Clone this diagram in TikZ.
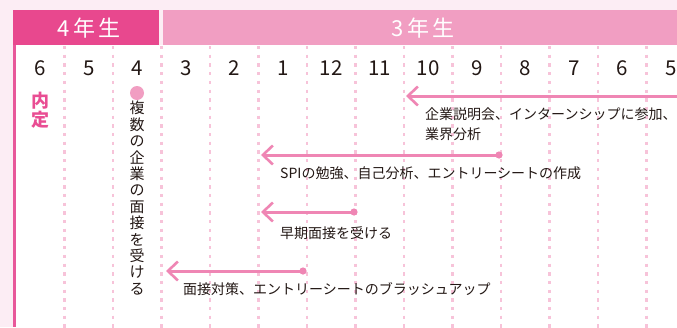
\documentclass[tikz,border=0pt]{standalone}
\usepackage{fontspec}
\setmainfont{Noto Sans CJK JP}
\usetikzlibrary{arrows.meta}
\usepackage{xcolor}

\definecolor{pagebg}{HTML}{FCEDF4}
\definecolor{hdrdark}{HTML}{E8488E}
\definecolor{hdrlight}{HTML}{F19EC2}
\definecolor{edgeline}{HTML}{E8589A}
\definecolor{gridpink}{HTML}{F7C3D9}
\definecolor{arrowpink}{HTML}{EF86B4}
\definecolor{naitei}{HTML}{E94D93}
\definecolor{bodytext}{HTML}{231815}

\tikzset{
    gridline/.style={gridpink, line width=2.6pt, dash pattern=on 3.3pt off 5.4pt},
    monthlbl/.style={font=\fontsize{20.5}{22}\selectfont, text=bodytext, inner sep=0pt},
    yearlbl/.style={font=\fontsize{22}{24}\selectfont, text=white, inner sep=0pt},
    steplbl/.style={font=\fontsize{14}{20}\selectfont, text=bodytext, anchor=base west, inner sep=0pt, align=left},
    planline/.style={arrowpink, line width=3pt, -{Straight Barb[length=10pt,width=19pt,line width=2.6pt]}},
}

\begin{document}
\begin{tikzpicture}[x=1pt,y=-1pt]
        \useasboundingbox (0,0) rectangle (677,327);
        \clip (0,0) rectangle (677,327);

        % background and header
        \fill[pagebg] (0,0) rectangle (677,327);
        \fill[white] (16,45) rectangle (677,327);
        \fill[hdrdark] (13,10) rectangle (159,45);
        \fill[hdrlight] (163,10) rectangle (677,45);
        \draw[edgeline, line width=3pt] (14.5,45) -- (14.5,327);

        \node[yearlbl] (y4) at (89,28) {4\hspace{3pt}年\hspace{3pt}生};
        \node[yearlbl] (y3) at (423,28) {3\hspace{3pt}年\hspace{3pt}生};

        % month columns
        \foreach \k in {1,...,13}
            \draw[gridline] (16+48.5*\k,46) -- ++(0,282);
        \foreach \m [count=\i from 0] in {6,5,4,3,2,1,12,11,10,9,8,7,6,5}
            \node[monthlbl] (m\i) at (40.25+48.5*\i,68) {\m};

        % job offer
        \node[font=\fontsize{18}{19}\selectfont\bfseries, text=naitei, align=center, inner sep=0pt, anchor=north]
            (naitei) at (40,92) {内\\定};

        % interviews at several companies
        \fill[hdrlight] (137,93) circle (7pt);
        \node[font=\fontsize{15}{16.4}\selectfont, text=bodytext, align=center, inner sep=0pt, anchor=north]
            (mensetsu) at (137,101) {複\\数\\の\\企\\業\\の\\面\\接\\を\\受\\け\\る};

        % plan arrows
        \coordinate (s1) at (690,96);
        \coordinate (t1) at (406,96);
        \coordinate (s2) at (499,155);
        \coordinate (t2) at (261,155);
        \coordinate (s3) at (354,212);
        \coordinate (t3) at (261,212);
        \coordinate (s4) at (303,271);
        \coordinate (t4) at (166,271);

        \draw[planline] (s1) -- (t1);
        \draw[planline] (s2) -- (t2);
        \draw[planline] (s3) -- (t3);
        \draw[planline] (s4) -- (t4);
        \foreach \p in {s2,s3,s4}
            \fill[arrowpink] (\p) circle (3.6pt);

        \node[steplbl] (n1) at (425,139) {企業説明会、インターンシップに参加、\\業界分析};
        \node[steplbl] (n2) at (280,178) {SPIの勉強、自己分析、エントリーシートの作成};
        \node[steplbl] (n3) at (280,238) {早期面接を受ける};
        \node[steplbl] (n4) at (183,294) {面接対策、エントリーシートのブラッシュアップ};

    \end{tikzpicture}
\end{document}
